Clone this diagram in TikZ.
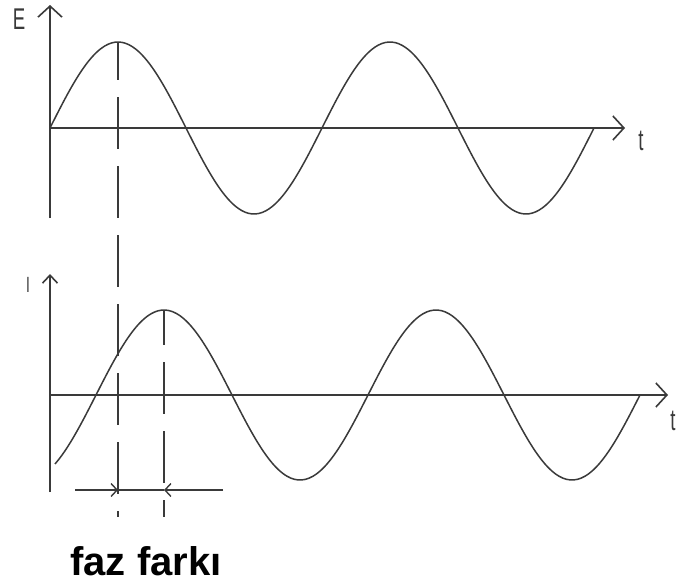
\documentclass[tikz,border=0pt]{standalone}
\usepackage{fontspec}
\setmainfont{Liberation Sans}
\newfontfamily\thinsans[FakeStretch=0.62]{Liberation Sans}
\usepackage{tikz}
\usetikzlibrary{arrows.meta}
\definecolor{PlotGrey}{HTML}{3A3A3A}

\begin{document}
\begin{tikzpicture}[
  x=1pt,y=-1pt,
  axis/.style={draw=PlotGrey,line width=1.8pt,-{Straight Barb[length=11pt,width=24pt,line width=1.6pt]}},
  smallaxis/.style={axis,-{Straight Barb[length=8pt,width=15pt,line width=1.6pt]}},
  wave/.style={draw=PlotGrey,line width=1.5pt},
  guide/.style={draw=PlotGrey,line width=1.8pt,dash pattern=on 52pt off 17pt},
  marker/.style={draw=PlotGrey,line width=1.4pt},
  lbl/.style={text=PlotGrey,inner sep=0pt,font=\thinsans\fontsize{30}{30}\selectfont},
  caption/.style={inner sep=0pt,anchor=base,font=\bfseries\fontsize{40}{44}\selectfont}
]
\useasboundingbox[fill=white] (0,0) rectangle (678,584);
\coordinate (Eorig) at (50,128);
\coordinate (Etop) at (50,5);
\coordinate (Ebot) at (50,218);
\coordinate (Eend) at (625,128);
\coordinate (Iorig) at (50,395);
\coordinate (Itop) at (50,274);
\coordinate (Ibot) at (50,492);
\coordinate (Iend) at (668,395);
\coordinate (Epeak) at (118,42);
\coordinate (Ipeak) at (164,311);
\coordinate (Eguide) at (118,517);
\coordinate (Iguide) at (164,517);
\coordinate (barL) at (75,490);
\coordinate (markE) at (118,490);
\coordinate (markI) at (164,490);
\coordinate (barR) at (223,490);
\draw[axis] (Ebot) -- (Etop);
\draw[axis] (Eorig) -- (Eend);
\draw[smallaxis] (Ibot) -- (Itop);
\draw[axis] (Iorig) -- (Iend);
\draw[wave] plot[domain=50:594,samples=160,smooth] (\x,{128-86*sin((\x-50)*1.32353)});
\draw[wave] plot[domain=55:640,samples=160,smooth] (\x,{395-85*sin((\x-96)*1.32353)});
\draw[guide,dash phase=14pt] (Epeak) -- (Eguide);
\draw[guide,dash phase=18pt] (Ipeak) -- (Iguide);
\draw[marker,-{Straight Barb[length=6pt,width=13pt]}] (barL) -- (markE);
\draw[marker] (markE) -- (markI);
\draw[marker,-{Straight Barb[length=6pt,width=13pt]}] (barR) -- (markI);
\node[lbl] (labE) at (19,19) {E};
\node[lbl] (labT1) at (641,141) {t};
\node[lbl,font=\thinsans\fontsize{22}{22}\selectfont] (labI) at (28,285) {I};
\node[lbl] (labT2) at (673,421) {t};
\node[caption] (fazfarki) at (146,575) {faz farkı};
\end{tikzpicture}
\end{document}
